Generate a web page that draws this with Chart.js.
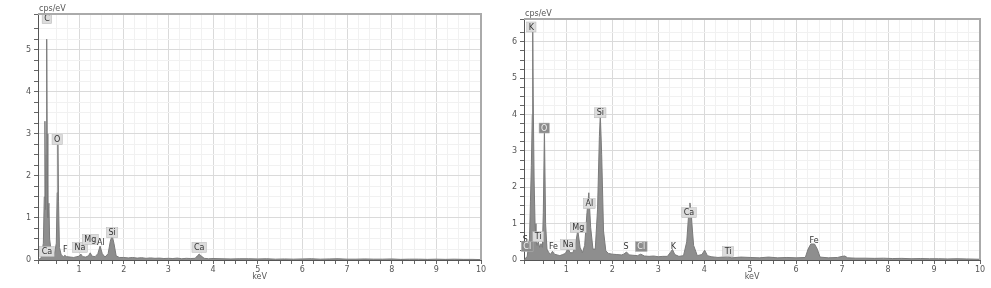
<!DOCTYPE html>
<html>
<head>
<meta charset="utf-8">
<script src="https://cdn.jsdelivr.net/npm/chart.js@4.4.1/dist/chart.umd.min.js"></script>
<style>
  body { margin: 0; background: #fff; width: 991px; height: 288px; overflow: hidden; position: relative; }
  .panel { position: absolute; top: 0; height: 288px; }
</style>
</head>
<body>
<div class="panel" style="left:0;width:490px"><canvas id="leftChart"></canvas></div>
<div class="panel" style="left:490px;width:501px"><canvas id="rightChart"></canvas></div>
<script>
// Left spectrum: energy (keV) and intensity (cps/eV)
const leftKeV = [
  0.08, 0.15, 0.2, 0.22, 0.235, 0.25, 0.265, 0.275, 0.285, 0.3,
  0.325, 0.34, 0.37, 0.4, 0.45, 0.49, 0.51, 0.525, 0.54, 0.56,
  0.6, 0.65, 0.68, 0.72, 0.8, 0.88, 0.95, 1.0, 1.04, 1.08,
  1.15, 1.21, 1.25, 1.29, 1.36, 1.42, 1.47, 1.52, 1.58, 1.65,
  1.7, 1.74, 1.78, 1.83, 1.9,
  2.0, 2.1, 2.2, 2.3, 2.4, 2.5, 2.6, 2.7, 2.8, 2.9,
  3.0, 3.1, 3.2, 3.3, 3.4, 3.5, 3.6, 3.65, 3.69, 3.73, 3.8, 3.9,
  4.0, 4.2, 4.4, 4.6, 4.8, 5.0, 5.2, 5.4, 5.6, 5.8,
  6.0, 6.2, 6.4, 6.6, 6.8, 7.0, 7.2, 7.4, 7.6, 7.8,
  8.0, 8.2, 8.4, 8.6, 8.8, 9.0, 9.2, 9.4, 9.6, 9.8, 10.0
];
const leftCps = [
  0, 0.05, 0.4, 1.5, 3.3, 1.2, 2.5, 5.25, 3.0, 1.0,
  1.35, 0.5, 0.25, 0.15, 0.15, 0.4, 1.6, 2.75, 1.4, 0.3,
  0.12, 0.08, 0.11, 0.08, 0.07, 0.06, 0.08, 0.09, 0.14, 0.08,
  0.07, 0.1, 0.17, 0.09, 0.08, 0.15, 0.33, 0.15, 0.07, 0.15,
  0.45, 0.58, 0.4, 0.1, 0.06,
  0.06, 0.05, 0.06, 0.045, 0.055, 0.04, 0.05, 0.04, 0.045, 0.035,
  0.04, 0.035, 0.045, 0.03, 0.04, 0.035, 0.04, 0.1, 0.14, 0.1, 0.04, 0.03,
  0.035, 0.03, 0.025, 0.03, 0.03, 0.025, 0.03, 0.02, 0.025, 0.02,
  0.025, 0.03, 0.02, 0.025, 0.03, 0.02, 0.02, 0.025, 0.02, 0.02,
  0.025, 0.015, 0.02, 0.02, 0.015, 0.02, 0.015, 0.02, 0.015, 0.015, 0.01
];

// Right spectrum
const rightKeV = [
  0.08, 0.15, 0.2, 0.22, 0.24, 0.26, 0.27, 0.28, 0.3, 0.32,
  0.34, 0.36, 0.39, 0.42, 0.45, 0.48, 0.5, 0.525, 0.55, 0.58,
  0.62, 0.66, 0.7, 0.74, 0.8, 0.86, 0.92, 0.98,
  1.04, 1.08, 1.14, 1.19, 1.25, 1.3, 1.35, 1.4, 1.45, 1.49,
  1.53, 1.58, 1.63, 1.68, 1.72, 1.74, 1.77, 1.81, 1.86, 1.92,
  2.0, 2.1, 2.2, 2.25, 2.31, 2.37, 2.45, 2.55, 2.62, 2.7,
  2.8, 2.9, 3.0, 3.1, 3.2, 3.26, 3.31, 3.36, 3.45, 3.55,
  3.62, 3.67, 3.69, 3.72, 3.77, 3.85, 3.95, 4.01, 4.07, 4.15,
  4.3, 4.4, 4.51, 4.6, 4.8, 5.0, 5.2, 5.4, 5.6, 5.8,
  6.0, 6.2, 6.26, 6.32, 6.4, 6.46, 6.52, 6.7, 6.9, 7.0,
  7.06, 7.12, 7.3, 7.5, 7.7, 7.9, 8.1, 8.3, 8.5, 8.7,
  8.9, 9.1, 9.3, 9.5, 9.7, 10.0
];
const rightCps = [
  0, 0.1, 0.6, 1.6, 2.6, 4.0, 6.38, 4.5, 2.2, 1.0,
  0.55, 0.4, 0.5, 0.35, 0.45, 0.35, 1.3, 3.55, 1.0, 0.3,
  0.2, 0.16, 0.24, 0.16, 0.14, 0.12, 0.15, 0.18,
  0.33, 0.2, 0.2, 0.35, 0.82, 0.35, 0.2, 0.4, 1.3, 1.85,
  0.9, 0.3, 0.3, 1.4, 3.4, 4.0, 2.9, 0.8, 0.25, 0.18,
  0.16, 0.15, 0.14, 0.16, 0.22, 0.14, 0.13, 0.12, 0.16, 0.11,
  0.1, 0.11, 0.09, 0.1, 0.1, 0.2, 0.29, 0.15, 0.1, 0.12,
  0.5, 1.4, 1.57, 1.2, 0.4, 0.12, 0.15, 0.27, 0.12, 0.09,
  0.07, 0.08, 0.1, 0.06, 0.08, 0.07, 0.06, 0.08, 0.06, 0.07,
  0.06, 0.07, 0.3, 0.44, 0.44, 0.3, 0.08, 0.06, 0.07, 0.1,
  0.11, 0.06, 0.05, 0.05, 0.045, 0.05, 0.04, 0.045, 0.035, 0.04,
  0.035, 0.035, 0.03, 0.035, 0.03, 0.02
];

// Tick labels
const xTickLabels = [1, 2, 3, 4, 5, 6, 7, 8, 9, 10];
const leftYTicks = [0, 1, 2, 3, 4, 5];
const rightYTicks = [0, 1, 2, 3, 4, 5, 6];

// Peak labels: element, energy (keV), anchor height (cps/eV), box style
const leftPeaks = [
  ['C', 0.28, 5.74, 'light'], ['O', 0.51, 2.86, 'light'], ['Ca', 0.28, 0.2, 'light'],
  ['F', 0.69, 0.25, 'none'], ['Na', 1.02, 0.3, 'light'], ['Mg', 1.25, 0.49, 'light'],
  ['Al', 1.49, 0.42, 'none'], ['Si', 1.74, 0.65, 'light'], ['Ca', 3.69, 0.3, 'light']
];
const rightPeaks = [
  ['K', 0.24, 6.41, 'light'], ['O', 0.52, 3.63, 'dark'], ['Si', 1.74, 4.05, 'light'],
  ['Al', 1.5, 1.55, 'light'], ['Mg', 1.26, 0.89, 'light'], ['Na', 1.04, 0.42, 'light'],
  ['Fe', 0.72, 0.37, 'none'], ['S', 2.3, 0.37, 'none'], ['Cl', 2.63, 0.37, 'dark'],
  ['K', 3.33, 0.37, 'none'], ['Ca', 3.67, 1.3, 'light'], ['Ti', 4.52, 0.23, 'light'],
  ['Fe', 6.39, 0.53, 'none'], ['S', 0.11, 0.56, 'none'], ['Ti', 0.39, 0.64, 'light'],
  ['Cl', 0.15, 0.37, 'dark']
];

const peakLabels = {
  id: 'peakLabels',
  afterDatasetsDraw(chart, args, opts) {
    const { ctx, scales: { x, y } } = chart;
    ctx.save();
    ctx.font = '8px "DejaVu Sans"';
    ctx.textAlign = 'center';
    ctx.textBaseline = 'middle';
    opts.peaks.forEach(([name, e, v, style]) => {
      const px = x.getPixelForValue(e);
      const py = y.getPixelForValue(v);
      const w = ctx.measureText(name).width + 4;
      if (style !== 'none') {
        ctx.fillStyle = style === 'dark' ? '#8c8c8c' : '#dcdcdc';
        ctx.fillRect(px - w / 2, py - 5, w, 10);
        ctx.strokeStyle = '#b5b5b5';
        ctx.lineWidth = 0.5;
        ctx.strokeRect(px - w / 2, py - 5, w, 10);
      }
      ctx.fillStyle = style === 'dark' ? '#f0f0f0' : '#333';
      ctx.fillText(name, px, py + 0.5);
    });
    ctx.restore();
  },
  afterDraw(chart) {
    const { ctx, chartArea: a } = chart;
    ctx.save();
    // thick frame on top and right
    ctx.strokeStyle = '#aaa';
    ctx.lineWidth = 2;
    ctx.beginPath();
    ctx.moveTo(a.left, a.top);
    ctx.lineTo(a.right, a.top);
    ctx.lineTo(a.right, a.bottom);
    ctx.stroke();
    ctx.fillStyle = '#555';
    ctx.font = '8px "DejaVu Sans"';
    ctx.textAlign = 'left';
    ctx.textBaseline = 'bottom';
    ctx.fillText('cps/eV', a.left + 1, a.top - 1);
    ctx.restore();
  }
};

function makeChart(id, keV, cps, yMax, yTicks, peaks, yWidth, pad) {
  const points = keV.map((e, i) => ({ x: e, y: cps[i] }));
  return new Chart(document.getElementById(id), {
    type: 'line',
    data: {
      datasets: [{
        data: points,
        borderColor: '#7a7a7a',
        backgroundColor: '#8e8e8e',
        borderWidth: 1,
        pointRadius: 0,
        tension: 0,
        fill: 'origin'
      }]
    },
    options: {
      responsive: true,
      maintainAspectRatio: false,
      animation: false,
      layout: { padding: pad },
      plugins: {
        legend: { display: false },
        tooltip: { enabled: false },
        peakLabels: { peaks }
      },
      scales: {
        x: {
          type: 'linear',
          min: 0.08,
          max: 10,
          afterFit: s => { s.height = 28; },
          border: { color: '#555' },
          grid: {
            color: c => Number.isInteger(c.tick.value) ? '#dadada' : '#f1f1f1',
            tickLength: 4,
            tickColor: '#666'
          },
          ticks: {
            stepSize: 0.25,
            autoSkip: false,
            maxRotation: 0,
            padding: 1,
            color: '#555',
            font: { family: 'DejaVu Sans', size: 8 },
            callback: v => xTickLabels.includes(v) ? String(v) : ''
          },
          title: {
            display: true,
            text: 'keV',
            color: '#555',
            font: { family: 'DejaVu Sans', size: 8 },
            padding: { top: 0, bottom: 6 }
          }
        },
        y: {
          min: 0,
          max: yMax,
          afterFit: s => { s.width = yWidth; },
          border: { color: '#555' },
          grid: {
            color: c => Number.isInteger(c.tick.value) ? '#dadada' : '#f1f1f1',
            tickLength: 4,
            tickColor: '#666'
          },
          ticks: {
            stepSize: 0.25,
            autoSkip: false,
            padding: 3,
            color: '#555',
            font: { family: 'DejaVu Sans', size: 8 },
            callback: v => yTicks.includes(v) ? String(v) : ''
          }
        }
      }
    },
    plugins: [peakLabels]
  });
}

makeChart('leftChart', leftKeV, leftCps, 5.85, leftYTicks, leftPeaks, 38, { left: 0, top: 14, right: 9, bottom: 0 });
makeChart('rightChart', rightKeV, rightCps, 6.63, rightYTicks, rightPeaks, 34, { left: 0, top: 19, right: 11, bottom: 0 });
</script>
</body>
</html>
